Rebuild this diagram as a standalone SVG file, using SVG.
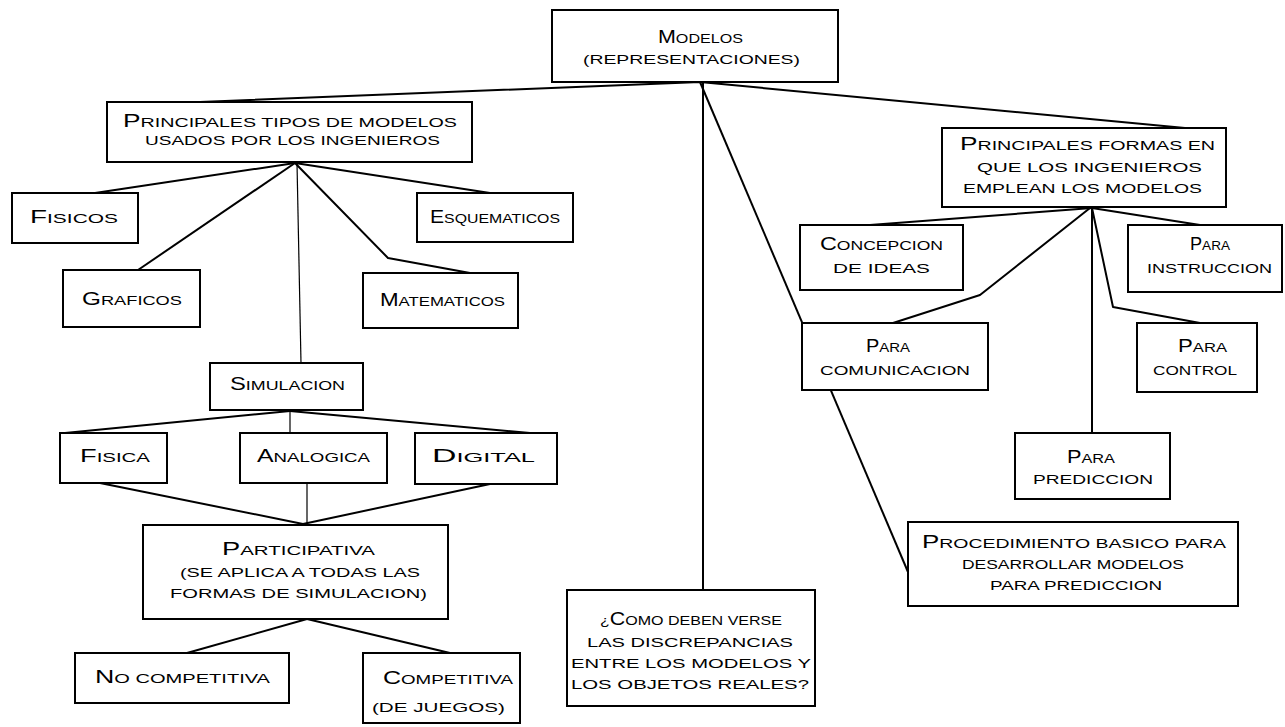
<svg xmlns="http://www.w3.org/2000/svg" width="1285" height="727" viewBox="0 0 1285 727">
<style>
.box{fill:#fff;stroke:#000;stroke-width:2}
.t{font-family:"Liberation Sans",Arial,sans-serif;font-size:13.5px;fill:#000}
.b{font-size:18px}
.ln{fill:none;stroke:#000;stroke-width:2;stroke-linejoin:round}
.thin{fill:none;stroke:#000;stroke-width:1.2}
</style>
<rect width="1285" height="727" fill="#fff"/>
<g id="connectors">
<polyline class="ln" points="200,102 700,82 1185,128"/>
<line class="ln" x1="703" y1="82" x2="703" y2="590"/>
<line class="ln" x1="700" y1="82" x2="908" y2="572"/>
<line class="ln" x1="95" y1="193" x2="295" y2="163"/>
<line class="ln" x1="138" y1="270" x2="295" y2="163"/>
<polyline class="ln" points="295,163 388,258 470,273"/>
<line class="ln" x1="295" y1="163" x2="490" y2="193"/>
<line class="thin" x1="297" y1="163" x2="301" y2="363"/>
<line class="ln" x1="65" y1="433" x2="290" y2="411"/>
<line class="ln" x1="530" y1="433" x2="290" y2="411"/>
<line class="thin" x1="290" y1="411" x2="290" y2="433"/>
<line class="ln" x1="100" y1="483" x2="303" y2="524"/>
<line class="ln" x1="490" y1="484" x2="303" y2="524"/>
<line class="thin" x1="307" y1="483" x2="307" y2="524"/>
<line class="ln" x1="307" y1="619" x2="187" y2="653"/>
<line class="ln" x1="307" y1="619" x2="450" y2="653"/>
<line class="ln" x1="1092" y1="208" x2="870" y2="225"/>
<line class="ln" x1="1092" y1="208" x2="1200" y2="225"/>
<polyline class="ln" points="1090,208 980,295 893,323"/>
<polyline class="ln" points="1092,208 1113,307 1200,323"/>
<line class="ln" x1="1092" y1="208" x2="1092" y2="433"/>
</g>
<g id="modelos"><rect class="box" x="552" y="10" width="286" height="72"/>
<text class="t" x="658" y="43" textLength="85" lengthAdjust="spacingAndGlyphs"><tspan class="b">M</tspan>ODELOS</text>
<text class="t" x="583" y="64" textLength="217" lengthAdjust="spacingAndGlyphs">(REPRESENTACIONES)</text></g>
<g id="tipos"><rect class="box" x="107" y="102" width="365" height="60"/>
<text class="t" x="123" y="127" textLength="334" lengthAdjust="spacingAndGlyphs"><tspan class="b">P</tspan>RINCIPALES TIPOS DE MODELOS</text>
<text class="t" x="145" y="145" textLength="295" lengthAdjust="spacingAndGlyphs">USADOS POR LOS INGENIEROS</text></g>
<g id="formas"><rect class="box" x="942" y="128" width="284" height="79"/>
<text class="t" x="960" y="150" textLength="255" lengthAdjust="spacingAndGlyphs"><tspan class="b">P</tspan>RINCIPALES FORMAS EN</text>
<text class="t" x="977" y="172" textLength="225" lengthAdjust="spacingAndGlyphs">QUE LOS INGENIEROS</text>
<text class="t" x="963" y="193" textLength="239" lengthAdjust="spacingAndGlyphs">EMPLEAN LOS MODELOS</text></g>
<g id="fisicos"><rect class="box" x="12" y="193" width="126" height="50"/>
<text class="t" x="30" y="223" textLength="88" lengthAdjust="spacingAndGlyphs"><tspan class="b">F</tspan>ISICOS</text></g>
<g id="esquematicos"><rect class="box" x="417" y="193" width="156" height="49"/>
<text class="t" x="430" y="223" textLength="130" lengthAdjust="spacingAndGlyphs"><tspan class="b">E</tspan>SQUEMATICOS</text></g>
<g id="graficos"><rect class="box" x="63" y="270" width="137" height="57"/>
<text class="t" x="82" y="305" textLength="100" lengthAdjust="spacingAndGlyphs"><tspan class="b">G</tspan>RAFICOS</text></g>
<g id="matematicos"><rect class="box" x="363" y="273" width="155" height="55"/>
<text class="t" x="380" y="306" textLength="125" lengthAdjust="spacingAndGlyphs"><tspan class="b">M</tspan>ATEMATICOS</text></g>
<g id="simulacion"><rect class="box" x="210" y="363" width="153" height="47"/>
<text class="t" x="230" y="390" textLength="115" lengthAdjust="spacingAndGlyphs"><tspan class="b">S</tspan>IMULACION</text></g>
<g id="fisica"><rect class="box" x="60" y="433" width="107" height="50"/>
<text class="t" x="80" y="462" textLength="70" lengthAdjust="spacingAndGlyphs"><tspan class="b">F</tspan>ISICA</text></g>
<g id="analogica"><rect class="box" x="240" y="433" width="147" height="50"/>
<text class="t" x="257" y="462" textLength="113" lengthAdjust="spacingAndGlyphs"><tspan class="b">A</tspan>NALOGICA</text></g>
<g id="digital"><rect class="box" x="415" y="433" width="142" height="51"/>
<text class="t" x="432" y="462" textLength="103" lengthAdjust="spacingAndGlyphs"><tspan class="b">D</tspan>IGITAL</text></g>
<g id="participativa"><rect class="box" x="143" y="525" width="305" height="94"/>
<text class="t" x="222" y="555" textLength="153" lengthAdjust="spacingAndGlyphs"><tspan class="b">P</tspan>ARTICIPATIVA</text>
<text class="t" x="180" y="577" textLength="240" lengthAdjust="spacingAndGlyphs">(SE APLICA A TODAS LAS</text>
<text class="t" x="170" y="598" textLength="257" lengthAdjust="spacingAndGlyphs">FORMAS DE SIMULACION)</text></g>
<g id="nocompetitiva"><rect class="box" x="75" y="653" width="214" height="50"/>
<text class="t" x="95" y="683" textLength="175" lengthAdjust="spacingAndGlyphs"><tspan class="b">N</tspan>O COMPETITIVA</text></g>
<g id="competitiva"><rect class="box" x="363" y="653" width="157" height="70"/>
<text class="t" x="383" y="684" textLength="130" lengthAdjust="spacingAndGlyphs"><tspan class="b">C</tspan>OMPETITIVA</text>
<text class="t" x="372" y="712" textLength="133" lengthAdjust="spacingAndGlyphs">(DE JUEGOS)</text></g>
<g id="discrepancias"><rect class="box" x="567" y="590" width="248" height="116"/>
<text class="t" x="600" y="625" textLength="182" lengthAdjust="spacingAndGlyphs">¿<tspan class="b">C</tspan>OMO DEBEN VERSE</text>
<text class="t" x="587" y="647" textLength="206" lengthAdjust="spacingAndGlyphs">LAS DISCREPANCIAS</text>
<text class="t" x="571" y="668" textLength="240" lengthAdjust="spacingAndGlyphs">ENTRE LOS MODELOS Y</text>
<text class="t" x="571" y="689" textLength="238" lengthAdjust="spacingAndGlyphs">LOS OBJETOS REALES?</text></g>
<g id="procedimiento"><rect class="box" x="908" y="522" width="330" height="84"/>
<text class="t" x="922" y="548" textLength="304" lengthAdjust="spacingAndGlyphs"><tspan class="b">P</tspan>ROCEDIMIENTO BASICO PARA</text>
<text class="t" x="962" y="569" textLength="222" lengthAdjust="spacingAndGlyphs">DESARROLLAR MODELOS</text>
<text class="t" x="990" y="590" textLength="172" lengthAdjust="spacingAndGlyphs">PARA PREDICCION</text></g>
<g id="prediccion"><rect class="box" x="1015" y="433" width="155" height="66"/>
<text class="t" x="1067" y="463" textLength="48" lengthAdjust="spacingAndGlyphs"><tspan class="b">P</tspan>ARA</text>
<text class="t" x="1033" y="484" textLength="120" lengthAdjust="spacingAndGlyphs">PREDICCION</text></g>
<g id="concepcion"><rect class="box" x="800" y="225" width="163" height="65"/>
<text class="t" x="820" y="250" textLength="123" lengthAdjust="spacingAndGlyphs"><tspan class="b">C</tspan>ONCEPCION</text>
<text class="t" x="833" y="273" textLength="97" lengthAdjust="spacingAndGlyphs">DE IDEAS</text></g>
<g id="instruccion"><rect class="box" x="1128" y="225" width="154" height="67"/>
<text class="t" x="1190" y="250" textLength="40" lengthAdjust="spacingAndGlyphs"><tspan class="b">P</tspan>ARA</text>
<text class="t" x="1147" y="273" textLength="125" lengthAdjust="spacingAndGlyphs">INSTRUCCION</text></g>
<g id="comunicacion"><rect class="box" x="802" y="323" width="186" height="67"/>
<text class="t" x="866" y="352" textLength="44" lengthAdjust="spacingAndGlyphs"><tspan class="b">P</tspan>ARA</text>
<text class="t" x="820" y="375" textLength="150" lengthAdjust="spacingAndGlyphs">COMUNICACION</text></g>
<g id="control"><rect class="box" x="1137" y="323" width="120" height="69"/>
<text class="t" x="1178" y="352" textLength="49" lengthAdjust="spacingAndGlyphs"><tspan class="b">P</tspan>ARA</text>
<text class="t" x="1153" y="375" textLength="84" lengthAdjust="spacingAndGlyphs">CONTROL</text></g>
</svg>
